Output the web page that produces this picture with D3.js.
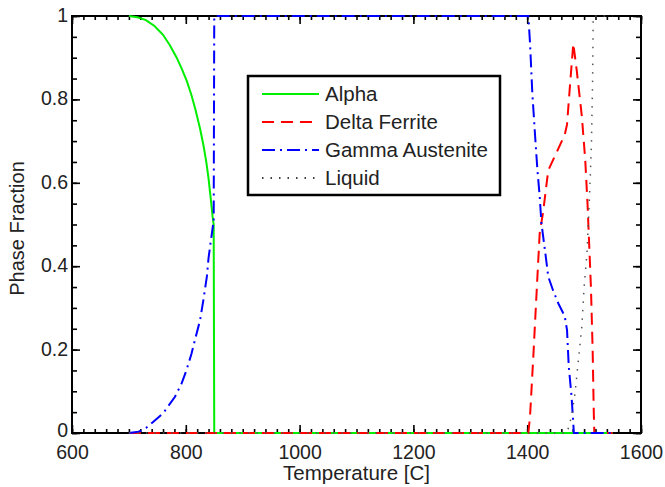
<!DOCTYPE html>
<html>
<head>
<meta charset="utf-8">
<script src="https://cdn.jsdelivr.net/npm/d3@7"></script>
<style>
  body { margin: 0; background: #fff; }
  svg { font-family: "Liberation Sans", Arial, sans-serif; }
</style>
</head>
<body>
<svg id="chart" width="665" height="487"></svg>
<script>
// phase fractions
let alphaTemp = [700, 715, 730, 745, 760, 772, 784, 793, 802, 810, 817, 825, 831, 836, 840, 844, 847, 849, 850, 1550];
let alphaFrac = [1.0, 0.997, 0.99, 0.976, 0.955, 0.93, 0.9, 0.873, 0.843, 0.81, 0.775, 0.73, 0.69, 0.65, 0.61, 0.56, 0.52, 0.5, 0, 0];

let deltaTemp = [700, 1402, 1405, 1411, 1417, 1422, 1428, 1437, 1466, 1470, 1475, 1481, 1487, 1496, 1502, 1506, 1509, 1512, 1515, 1517, 1518, 1550];
let deltaFrac = [0, 0, 0.04, 0.19, 0.35, 0.48, 0.53, 0.63, 0.715, 0.74, 0.83, 0.934, 0.87, 0.76, 0.655, 0.55, 0.45, 0.35, 0.2, 0.05, 0, 0];

let gammaTemp = [700, 717, 730, 743, 760, 781, 793, 801, 810, 816, 825, 831, 837, 840, 845, 848, 849, 850, 1400, 1402, 1405, 1409, 1414, 1418, 1422, 1425, 1432, 1437, 1446, 1455, 1466, 1470, 1473, 1478, 1481, 1482, 1550];
let gammaFrac = [0, 0.003, 0.012, 0.027, 0.047, 0.087, 0.12, 0.15, 0.19, 0.223, 0.27, 0.32, 0.375, 0.42, 0.47, 0.5, 0.5, 1, 1, 1, 0.934, 0.815, 0.71, 0.63, 0.567, 0.503, 0.43, 0.375, 0.34, 0.31, 0.28, 0.247, 0.16, 0.087, 0.023, 0, 0];

let liquidTemp = [700, 1470, 1478, 1484, 1490, 1496, 1500, 1505, 1508, 1511, 1513, 1515, 1516, 1550];
let liquidFrac = [0, 0, 0.04, 0.095, 0.175, 0.255, 0.35, 0.43, 0.52, 0.62, 0.70, 0.85, 1, 1];

let seriesNames = ['Alpha', 'Delta Ferrite', 'Gamma Austenite', 'Liquid'];
let xTicks = [600, 800, 1000, 1200, 1400, 1600];
let yTicks = [0, 0.2, 0.4, 0.6, 0.8, 1];

let styles = [
  {color: '#00ee00', dash: null, width: 2},
  {color: '#ff0000', dash: '12,7', width: 2},
  {color: '#0000ff', dash: '13,5,2,5', width: 2},
  {color: '#555555', dash: '1.5,7', width: 1.5}
];

let series = [
  alphaTemp.map((t, i) => [t, alphaFrac[i]]),
  deltaTemp.map((t, i) => [t, deltaFrac[i]]),
  gammaTemp.map((t, i) => [t, gammaFrac[i]]),
  liquidTemp.map((t, i) => [t, liquidFrac[i]])
];

let plotL = 72, plotR = 641, plotT = 16, plotB = 433;

let x = d3.scaleLinear().domain([600, 1600]).range([plotL, plotR]);
let y = d3.scaleLinear().domain([0, 1]).range([plotB, plotT]);

let svg = d3.select('#chart');

// box
svg.append('rect')
  .attr('x', plotL).attr('y', plotT)
  .attr('width', plotR - plotL).attr('height', plotB - plotT)
  .attr('fill', 'none').attr('stroke', '#000').attr('stroke-width', 2);

function styleAxis(g){
  g.select('.domain').remove();
  g.selectAll('line').attr('stroke', '#000').attr('stroke-width', 1.6);
  g.selectAll('text').attr('fill', '#222').style('font-size', '19.5px');
}

let xMinor = d3.range(600, 1601, 20);
let yMinor = d3.range(0, 1.0001, 0.05);

svg.append('g').attr('transform', `translate(0,${plotB})`)
  .call(d3.axisBottom(x).tickValues(xMinor).tickSize(-4).tickFormat(''))
  .call(styleAxis);
svg.append('g').attr('transform', `translate(0,${plotT})`)
  .call(d3.axisTop(x).tickValues(xMinor).tickSize(-4).tickFormat(''))
  .call(styleAxis);
svg.append('g').attr('transform', `translate(${plotL},0)`)
  .call(d3.axisLeft(y).tickValues(yMinor).tickSize(-5).tickFormat(''))
  .call(styleAxis);
svg.append('g').attr('transform', `translate(${plotR},0)`)
  .call(d3.axisRight(y).tickValues(yMinor).tickSize(-5).tickFormat(''))
  .call(styleAxis);

svg.append('g').attr('transform', `translate(0,${plotB})`)
  .call(d3.axisBottom(x).tickValues(xTicks).tickSize(-8).tickPadding(12).tickFormat(d3.format('d')))
  .call(styleAxis);
svg.append('g').attr('transform', `translate(0,${plotT})`)
  .call(d3.axisTop(x).tickValues(xTicks).tickSize(-8).tickFormat(''))
  .call(styleAxis);
svg.append('g').attr('transform', `translate(${plotL},0)`)
  .call(d3.axisLeft(y).tickValues(yTicks).tickSize(-8).tickPadding(4).tickFormat(d => d3.format('~g')(d)))
  .call(styleAxis)
  .call(g => g.selectAll('text').attr('dy', d => d == 0 ? '0.2em' : '0.28em'));
svg.append('g').attr('transform', `translate(${plotR},0)`)
  .call(d3.axisRight(y).tickValues(yTicks).tickSize(-8).tickFormat(''))
  .call(styleAxis);

// lines
let line = d3.line().x(d => x(d[0])).y(d => y(d[1]));

svg.append('g').selectAll('path.phase')
  .data(series)
  .enter()
  .append('path')
  .attr('class', 'phase')
  .attr('d', line)
  .attr('fill', 'none')
  .attr('stroke', (d, i) => styles[i].color)
  .attr('stroke-width', (d, i) => styles[i].width)
  .attr('stroke-dasharray', (d, i) => styles[i].dash);

// axis labels
svg.append('text')
  .attr('x', (plotL + plotR) / 2).attr('y', 480)
  .attr('text-anchor', 'middle')
  .attr('fill', '#222')
  .style('font-size', '20.5px')
  .text('Temperature [C]');

svg.append('text')
  .attr('transform', `translate(24,${(plotT + plotB) / 2 + 4}) rotate(-90)`)
  .attr('text-anchor', 'middle')
  .attr('fill', '#222')
  .style('font-size', '20px')
  .text('Phase Fraction');

// legend
let legend = svg.append('g').attr('class', 'legend');
legend.append('rect')
  .attr('x', 248).attr('y', 76)
  .attr('width', 252).attr('height', 119)
  .attr('fill', '#fff').attr('stroke', '#000').attr('stroke-width', 2.5);

let legendRow = legend.selectAll('g.row')
  .data(seriesNames)
  .enter()
  .append('g')
  .attr('class', 'row')
  .attr('transform', (d, i) => `translate(0,${94 + i * 28})`);

legendRow.append('line')
  .attr('x1', 262).attr('x2', 319)
  .attr('stroke', (d, i) => i == 3 ? '#000' : styles[i].color)
  .attr('stroke-width', (d, i) => styles[i].width)
  .attr('stroke-dasharray', (d, i) => styles[i].dash);

legendRow.append('text')
  .attr('x', 325).attr('y', 7)
  .attr('fill', '#222')
  .style('font-size', '20.5px')
  .text(d => d);
</script>
</body>
</html>
